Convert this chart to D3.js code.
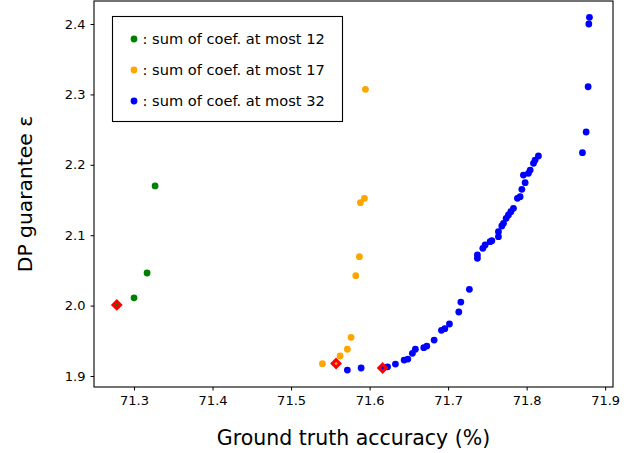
<!DOCTYPE html>
<html>
<head>
<meta charset="utf-8">
<script src="https://cdn.jsdelivr.net/npm/d3@7"></script>
<style>
  body { margin: 0; background: #fff; }
  text { font-family: "DejaVu Sans", sans-serif; }
</style>
</head>
<body>
<div id="main"></div>
<script>
// values
var greenX = [71.278, 71.300, 71.3166, 71.3268];
var greenY = [2.001, 2.011, 2.0463, 2.170];

var orangeX = [71.5399, 71.5573, 71.5624, 71.5717, 71.5764, 71.5824, 71.587, 71.5883, 71.5934, 71.5947];
var orangeY = [1.9175, 1.9178, 1.9284, 1.938, 1.955, 2.0425, 2.0695, 2.1462, 2.1524, 2.3072];

var blueX = [71.5717, 71.5892, 71.6166, 71.6229, 71.6329, 71.644, 71.6487, 71.6545, 71.6583, 71.669,
             71.6729, 71.6822, 71.6915, 71.6958, 71.7017, 71.7136, 71.7162, 71.7271, 71.7373, 71.7373,
             71.7442, 71.7471, 71.7535, 71.7557, 71.7641, 71.7641, 71.7684, 71.7705, 71.7739, 71.7768,
             71.7799, 71.7832, 71.7883, 71.7917, 71.7939, 71.7981, 71.7959, 71.8023, 71.8045, 71.8087,
             71.8108, 71.8150, 71.8711, 71.8758, 71.8783, 71.8792, 71.8800];
var blueY = [1.9085, 1.9114, 1.9114, 1.913, 1.917, 1.9227, 1.9241, 1.9322, 1.938, 1.9402,
             1.9426, 1.9511, 1.9649, 1.9672, 1.9739, 1.9909, 2.0051, 2.0232, 2.0672, 2.0719,
             2.0814, 2.0861, 2.0908, 2.0922, 2.0979, 2.105, 2.1131, 2.1169, 2.124, 2.1287,
             2.1334, 2.1382, 2.1524, 2.1547, 2.1652, 2.1746, 2.1855, 2.1879, 2.1926, 2.2021,
             2.2068, 2.2125, 2.2172, 2.2466, 2.3109, 2.400, 2.4095];

// highlighted (red diamond) points
var bestX = [71.278, 71.5573, 71.6166];
var bestY = [2.001, 1.9178, 1.9114];

var xTicks = [71.3, 71.4, 71.5, 71.6, 71.7, 71.8, 71.9];
var yTicks = [1.9, 2.0, 2.1, 2.2, 2.3, 2.4];

var seriesNames = [": sum of coef. at most 12", ": sum of coef. at most 17", ": sum of coef. at most 32"];
var seriesColors = ["green", "orange", "blue"];

var width = 643, height = 453;
var margin = {left: 94, right: 30, top: 1, bottom: 66};

var svg = d3.select("#main")
        .append("svg")
        .attr("width", width)
        .attr("height", height);

var x = d3.scaleLinear().domain([71.249, 71.910]).range([margin.left, width - margin.right]);
var y = d3.scaleLinear().domain([1.8844, 2.4327]).range([height - margin.bottom, margin.top]);

function zip(xs, ys) {
    return xs.map(function(v, i) { return [v, ys[i]]; });
}

var series = [zip(greenX, greenY), zip(orangeX, orangeY), zip(blueX, blueY)];

var plot = svg.append("g");

series.forEach(function(pts, i) {
    plot.append("g")
        .selectAll("circle")
        .data(pts)
        .enter()
        .append("circle")
        .attr("cx", function(d) { return x(d[0]); })
        .attr("cy", function(d) { return y(d[1]); })
        .attr("r", 3.4)
        .attr("fill", seriesColors[i]);
});

var dsz = 3.8;
plot.append("g")
    .selectAll("path")
    .data(zip(bestX, bestY))
    .enter()
    .append("path")
    .attr("d", function(d) {
        var cx = x(d[0]), cy = y(d[1]);
        return "M" + cx + "," + (cy - dsz) + "L" + (cx + dsz) + "," + cy +
               "L" + cx + "," + (cy + dsz) + "L" + (cx - dsz) + "," + cy + "Z";
    })
    .attr("fill", "none")
    .attr("stroke", "red")
    .attr("stroke-width", 3);

// axes
var xAxis = svg.append("g")
        .attr("transform", "translate(0," + (height - margin.bottom) + ")")
        .call(d3.axisBottom(x).tickValues(xTicks).tickFormat(d3.format(".1f")).tickSize(3.5).tickPadding(5));
var yAxis = svg.append("g")
        .attr("transform", "translate(" + margin.left + ",0)")
        .call(d3.axisLeft(y).tickValues(yTicks).tickFormat(d3.format(".1f")).tickSize(3.5).tickPadding(5));

[xAxis, yAxis].forEach(function(a) {
    a.select(".domain").remove();
    a.selectAll("text").attr("font-size", 13).attr("font-family", "DejaVu Sans").attr("fill", "#000");
    a.selectAll("line").attr("stroke", "#000");
});

svg.append("rect")
    .attr("x", margin.left)
    .attr("y", margin.top)
    .attr("width", width - margin.left - margin.right)
    .attr("height", height - margin.top - margin.bottom)
    .attr("fill", "none")
    .attr("stroke", "#000")
    .attr("stroke-width", 1.1);

svg.append("text")
    .attr("x", (margin.left + width - margin.right) / 2)
    .attr("y", 445)
    .attr("text-anchor", "middle")
    .attr("font-size", 20.5)
    .text("Ground truth accuracy (%)");

svg.append("text")
    .attr("transform", "translate(32," + ((margin.top + height - margin.bottom) / 2) + ") rotate(-90)")
    .attr("text-anchor", "middle")
    .attr("font-size", 20.3)
    .text("DP guarantee ε");

// legend
var legend = svg.append("g");
legend.append("rect")
    .attr("x", 112.5)
    .attr("y", 16.5)
    .attr("width", 230)
    .attr("height", 105)
    .attr("fill", "#fff")
    .attr("stroke", "#000")
    .attr("stroke-width", 1.1);

seriesNames.forEach(function(name, i) {
    var yy = 39 + i * 31;
    legend.append("circle")
        .attr("cx", 134)
        .attr("cy", yy)
        .attr("r", 3.4)
        .attr("fill", seriesColors[i]);
    legend.append("text")
        .attr("x", 142.5)
        .attr("y", yy + 5)
        .attr("font-size", 14.6)
        .text(name);
});
</script>
</body>
</html>
